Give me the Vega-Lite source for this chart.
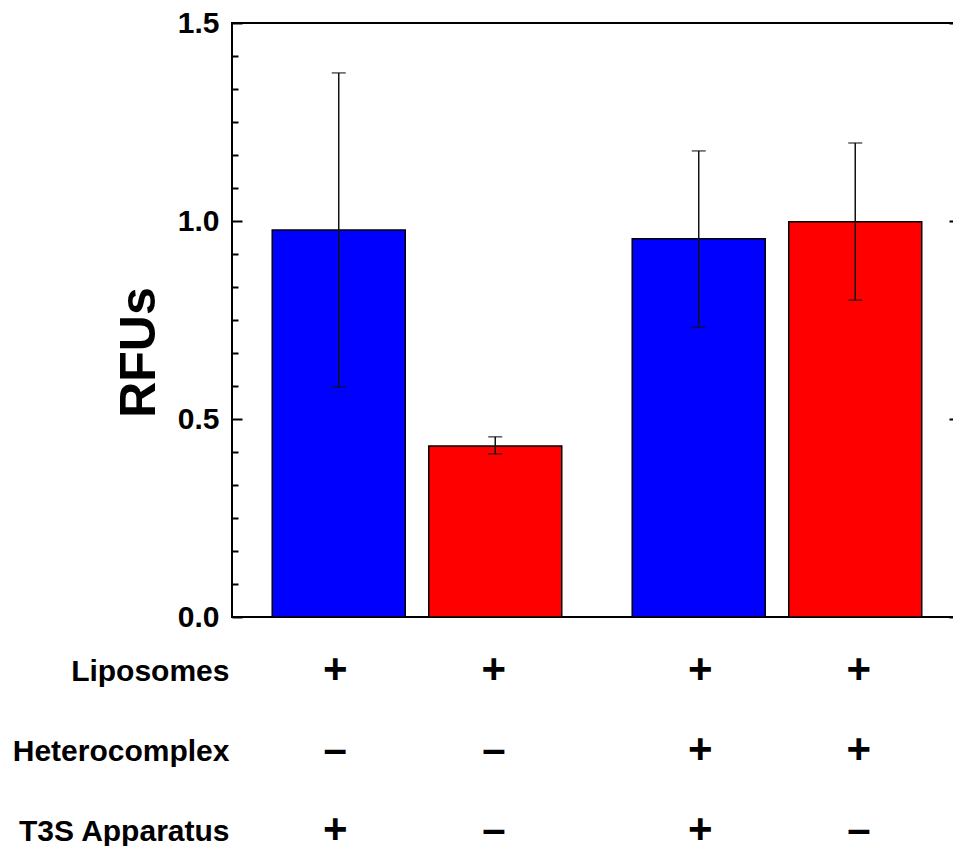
{
  "$schema": "https://vega.github.io/schema/vega-lite/v6.json",
  "padding": {"left": 12, "top": 7, "right": 0, "bottom": 0},
  "background": "white",
  "spacing": 0,
  "config": {"font": "Liberation Sans", "view": {"stroke": null}},
  "vconcat": [
    {
      "width": 727,
      "height": 594,
      "view": {"stroke": "black", "strokeWidth": 2},
      "data": {"values": [
        {"pos": 1, "group": "blue", "value": 0.977, "lo": 0.581, "hi": 1.374},
        {"pos": 2, "group": "red", "value": 0.432, "lo": 0.412, "hi": 0.455},
        {"pos": 3.3, "group": "blue", "value": 0.955, "lo": 0.732, "hi": 1.177},
        {"pos": 4.3, "group": "red", "value": 0.998, "lo": 0.8, "hi": 1.197}
      ]},
      "encoding": {
        "x": {"field": "pos", "type": "quantitative", "scale": {"domain": [0.35, 4.931]}, "axis": null}
      },
      "layer": [
        {
          "mark": {"type": "bar", "size": 133, "stroke": "black", "strokeWidth": 1.5},
          "encoding": {
            "y": {"field": "value", "type": "quantitative", "scale": {"domain": [0, 1.5], "nice": false, "zero": true},
              "axis": {"orient": "left", "values": [0, 0.5, 1, 1.5], "format": ".1f", "ticks": false, "domain": false, "grid": false,
                "labelFont": "Liberation Sans", "labelFontWeight": "bold", "labelFontSize": 30, "labelColor": "black",
                "labelPadding": 13, "labelBaseline": "middle", "labelFlush": false, "labelOverlap": false,
                "title": "RFUs", "titleFont": "Liberation Sans", "titleFontWeight": "bold", "titleFontSize": 50, "titleColor": "black",
                "titleAngle": -90, "titleX": -78, "titleY": 329, "titleAlign": "center", "titleBaseline": "alphabetic"}},
            "color": {"field": "group", "type": "nominal", "scale": {"domain": ["blue", "red"], "range": ["#0000FF", "#FF0000"]}, "legend": null}
          }
        },
        {
          "mark": {"type": "rule", "color": "#111111", "strokeWidth": 1.5},
          "encoding": {
            "y": {"field": "lo", "type": "quantitative",
              "axis": {"orient": "left", "values": [0, 0.0833333, 0.1666667, 0.25, 0.3333333, 0.4166667, 0.5, 0.5833333, 0.6666667, 0.75, 0.8333333, 0.9166667, 1, 1.0833333, 1.1666667, 1.25, 1.3333333, 1.4166667, 1.5],
                "labels": false, "domain": false, "grid": false, "title": null, "tickColor": "black", "tickWidth": 2,
                "tickSize": {"condition": {"test": "indexof([0, 0.5, 1, 1.5], datum.value) >= 0", "value": -10}, "value": -6}}},
            "y2": {"field": "hi"}
          }
        },
        {
          "mark": {"type": "tick", "orient": "horizontal", "size": 14, "thickness": 1.5, "color": "#111111"},
          "encoding": {
            "y": {"field": "hi", "type": "quantitative",
              "axis": {"orient": "right", "values": [0, 0.0833333, 0.1666667, 0.25, 0.3333333, 0.4166667, 0.5, 0.5833333, 0.6666667, 0.75, 0.8333333, 0.9166667, 1, 1.0833333, 1.1666667, 1.25, 1.3333333, 1.4166667, 1.5],
                "labels": false, "domain": false, "grid": false, "title": null, "tickColor": "black", "tickWidth": 2,
                "tickSize": {"condition": {"test": "indexof([0, 0.5, 1, 1.5], datum.value) >= 0", "value": -10}, "value": -6}}}
          }
        },
        {
          "mark": {"type": "tick", "orient": "horizontal", "size": 14, "thickness": 1.5, "color": "#111111"},
          "encoding": {
            "y": {"field": "lo", "type": "quantitative", "axis": null}
          }
        }
      ],
      "resolve": {"axis": {"y": "independent"}}
    },
    {
      "width": 727,
      "height": 240,
      "data": {"values": [
        {"pos": 1, "row": "Liposomes", "sign": "+"},
        {"pos": 2, "row": "Liposomes", "sign": "+"},
        {"pos": 3.3, "row": "Liposomes", "sign": "+"},
        {"pos": 4.3, "row": "Liposomes", "sign": "+"},
        {"pos": 1, "row": "Heterocomplex", "sign": "–"},
        {"pos": 2, "row": "Heterocomplex", "sign": "–"},
        {"pos": 3.3, "row": "Heterocomplex", "sign": "+"},
        {"pos": 4.3, "row": "Heterocomplex", "sign": "+"},
        {"pos": 1, "row": "T3S Apparatus", "sign": "+"},
        {"pos": 2, "row": "T3S Apparatus", "sign": "–"},
        {"pos": 3.3, "row": "T3S Apparatus", "sign": "+"},
        {"pos": 4.3, "row": "T3S Apparatus", "sign": "–"}
      ]},
      "mark": {"type": "text", "font": "Liberation Sans", "fontWeight": "bold", "fontSize": 42, "baseline": "middle", "align": "center", "color": "black", "dy": -3},
      "encoding": {
        "x": {"field": "pos", "type": "quantitative", "scale": {"domain": [0.35, 4.931]}, "axis": null},
        "y": {"field": "row", "type": "nominal", "sort": ["Liposomes", "Heterocomplex", "T3S Apparatus"],
          "scale": {"paddingInner": 0, "paddingOuter": 0},
          "axis": {"title": null, "ticks": false, "domain": false, "labelFont": "Liberation Sans", "labelFontWeight": "bold",
            "labelFontSize": 30, "labelColor": "black", "labelPadding": 3, "labelBaseline": "middle", "labelLimit": 0, "labelOffset": -2}},
        "text": {"field": "sign"}
      }
    }
  ]
}
